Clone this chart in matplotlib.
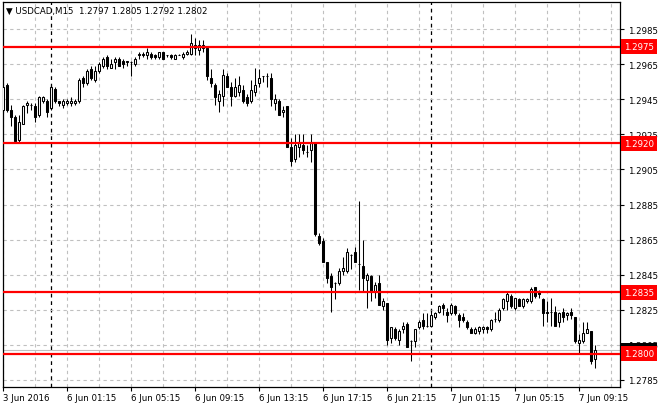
import numpy as np
import matplotlib.pyplot as plt
from matplotlib.transforms import blended_transform_factory

# USDCAD M15 candles, 3 Jun 2016 .. 7 Jun 09:30
symbol = "USDCAD,M15"
last_quote = [1.2797, 1.2805, 1.2792, 1.2802]

opens = [1.2939, 1.2953, 1.2939, 1.2935, 1.2922, 1.2931, 1.2942, 1.2942, 1.2941, 1.2936,
         1.2944, 1.2944, 1.2940, 1.2951, 1.2944, 1.2942, 1.2943, 1.2943, 1.2943, 1.2944,
         1.2957, 1.2954, 1.2962, 1.2956, 1.2961, 1.2964, 1.2969, 1.2963, 1.2966, 1.2968,
         1.2967, 1.2966, 1.2966, 1.2965, 1.2970, 1.2971, 1.2970, 1.2971, 1.2970, 1.2969,
         1.2972, 1.2970, 1.2970, 1.2968, 1.2970, 1.2969, 1.2971, 1.2971, 1.2976, 1.2973,
         1.2976, 1.2974, 1.2957, 1.2953, 1.2944, 1.2947, 1.2958, 1.2952, 1.2947, 1.2949,
         1.2950, 1.2946, 1.2944, 1.2949, 1.2954, 1.2958, 1.2958, 1.2957, 1.2943, 1.2944,
         1.2938, 1.2941, 1.2918, 1.2911, 1.2918, 1.2919, 1.2915, 1.2916, 1.2920, 1.2867,
         1.2864, 1.2852, 1.2844, 1.2840, 1.2840, 1.2847, 1.2847, 1.2856, 1.2858, 1.2851,
         1.2850, 1.2842, 1.2844, 1.2835, 1.2840, 1.2827, 1.2829, 1.2809, 1.2814, 1.2808,
         1.2814, 1.2817, 1.2807, 1.2807, 1.2815, 1.2819, 1.2816, 1.2816, 1.2821, 1.2824,
         1.2828, 1.2824, 1.2823, 1.2827, 1.2822, 1.2821, 1.2818, 1.2814, 1.2812, 1.2813,
         1.2814, 1.2815, 1.2814, 1.2820, 1.2819, 1.2826, 1.2830, 1.2833, 1.2826, 1.2831,
         1.2827, 1.2830, 1.2830, 1.2838, 1.2835, 1.2831, 1.2824, 1.2824, 1.2824, 1.2818,
         1.2824, 1.2822, 1.2824, 1.2821, 1.2806, 1.2807, 1.2812, 1.2813, 1.2797]
highs = [1.2954, 1.2954, 1.2942, 1.2936, 1.2936, 1.2942, 1.2944, 1.2943, 1.2943, 1.2947,
         1.2947, 1.2945, 1.2953, 1.2952, 1.2944, 1.2945, 1.2945, 1.2946, 1.2945, 1.2957,
         1.2958, 1.2962, 1.2964, 1.2964, 1.2966, 1.2969, 1.2970, 1.2968, 1.2969, 1.2969,
         1.2968, 1.2967, 1.2967, 1.2969, 1.2972, 1.2972, 1.2974, 1.2972, 1.2971, 1.2972,
         1.2972, 1.2970, 1.2971, 1.2971, 1.2971, 1.2972, 1.2973, 1.2982, 1.2980, 1.2979,
         1.2979, 1.2975, 1.2962, 1.2954, 1.2950, 1.2962, 1.2960, 1.2955, 1.2957, 1.2958,
         1.2953, 1.2948, 1.2956, 1.2963, 1.2962, 1.2958, 1.2960, 1.2960, 1.2948, 1.2945,
         1.2941, 1.2941, 1.2923, 1.2925, 1.2925, 1.2925, 1.2919, 1.2925, 1.2920, 1.2869,
         1.2866, 1.2852, 1.2846, 1.2841, 1.2849, 1.2855, 1.2860, 1.2857, 1.2861, 1.2887,
         1.2865, 1.2846, 1.2845, 1.2841, 1.2845, 1.2832, 1.2829, 1.2815, 1.2815, 1.2814,
         1.2818, 1.2818, 1.2808, 1.2814, 1.2819, 1.2823, 1.2823, 1.2825, 1.2824, 1.2828,
         1.2829, 1.2826, 1.2829, 1.2828, 1.2823, 1.2823, 1.2819, 1.2815, 1.2815, 1.2816,
         1.2816, 1.2816, 1.2820, 1.2824, 1.2826, 1.2832, 1.2835, 1.2834, 1.2832, 1.2832,
         1.2832, 1.2832, 1.2838, 1.2838, 1.2836, 1.2832, 1.2830, 1.2832, 1.2827, 1.2824,
         1.2826, 1.2824, 1.2826, 1.2821, 1.2811, 1.2818, 1.2818, 1.2813, 1.2805]
lows = [1.2938, 1.2938, 1.2930, 1.2920, 1.2920, 1.2931, 1.2937, 1.2939, 1.2932, 1.2935,
        1.2943, 1.2935, 1.2939, 1.2943, 1.2941, 1.2940, 1.2942, 1.2941, 1.2942, 1.2943,
        1.2952, 1.2953, 1.2956, 1.2955, 1.2960, 1.2963, 1.2962, 1.2963, 1.2962, 1.2964,
        1.2963, 1.2964, 1.2958, 1.2964, 1.2968, 1.2969, 1.2968, 1.2968, 1.2968, 1.2968,
        1.2968, 1.2969, 1.2968, 1.2968, 1.2970, 1.2968, 1.2970, 1.2970, 1.2970, 1.2970,
        1.2972, 1.2956, 1.2952, 1.2942, 1.2938, 1.2941, 1.2952, 1.2941, 1.2946, 1.2947,
        1.2943, 1.2941, 1.2943, 1.2947, 1.2952, 1.2955, 1.2952, 1.2941, 1.2939, 1.2936,
        1.2935, 1.2918, 1.2907, 1.2909, 1.2912, 1.2914, 1.2912, 1.2909, 1.2867, 1.2862,
        1.2852, 1.2840, 1.2824, 1.2831, 1.2839, 1.2845, 1.2846, 1.2848, 1.2852, 1.2836,
        1.2835, 1.2826, 1.2830, 1.2832, 1.2828, 1.2825, 1.2805, 1.2806, 1.2808, 1.2805,
        1.2812, 1.2804, 1.2796, 1.2804, 1.2814, 1.2814, 1.2815, 1.2816, 1.2820, 1.2823,
        1.2822, 1.2818, 1.2822, 1.2822, 1.2815, 1.2818, 1.2814, 1.2812, 1.2811, 1.2811,
        1.2812, 1.2812, 1.2813, 1.2818, 1.2818, 1.2825, 1.2825, 1.2826, 1.2825, 1.2827,
        1.2826, 1.2829, 1.2829, 1.2832, 1.2832, 1.2816, 1.2818, 1.2816, 1.2816, 1.2815,
        1.2818, 1.2819, 1.2820, 1.2806, 1.2800, 1.2806, 1.2812, 1.2794, 1.2792]
closes = [1.2952, 1.2939, 1.2935, 1.2921, 1.2932, 1.2941, 1.2943, 1.2942, 1.2935, 1.2946,
          1.2946, 1.2938, 1.2952, 1.2944, 1.2943, 1.2944, 1.2944, 1.2944, 1.2944, 1.2956,
          1.2954, 1.2961, 1.2957, 1.2961, 1.2965, 1.2968, 1.2964, 1.2965, 1.2968, 1.2964,
          1.2965, 1.2967, 1.2966, 1.2968, 1.2971, 1.2970, 1.2972, 1.2969, 1.2969, 1.2972,
          1.2968, 1.2970, 1.2969, 1.2970, 1.2970, 1.2971, 1.2972, 1.2977, 1.2974, 1.2976,
          1.2974, 1.2958, 1.2954, 1.2946, 1.2948, 1.2959, 1.2952, 1.2947, 1.2952, 1.2953,
          1.2944, 1.2943, 1.2950, 1.2953, 1.2957, 1.2958, 1.2958, 1.2945, 1.2945, 1.2936,
          1.2939, 1.2918, 1.2910, 1.2919, 1.2920, 1.2916, 1.2915, 1.2920, 1.2868, 1.2863,
          1.2852, 1.2843, 1.2838, 1.2840, 1.2847, 1.2849, 1.2858, 1.2856, 1.2852, 1.2851,
          1.2843, 1.2845, 1.2835, 1.2839, 1.2828, 1.2830, 1.2808, 1.2815, 1.2809, 1.2813,
          1.2816, 1.2804, 1.2807, 1.2814, 1.2818, 1.2816, 1.2816, 1.2822, 1.2823, 1.2827,
          1.2826, 1.2822, 1.2828, 1.2823, 1.2819, 1.2819, 1.2815, 1.2812, 1.2814, 1.2815,
          1.2815, 1.2814, 1.2819, 1.2820, 1.2825, 1.2831, 1.2834, 1.2827, 1.2832, 1.2827,
          1.2831, 1.2831, 1.2837, 1.2833, 1.2834, 1.2823, 1.2823, 1.2824, 1.2816, 1.2823,
          1.2821, 1.2823, 1.2822, 1.2807, 1.2808, 1.2812, 1.2814, 1.2796, 1.2802]

tick_bars = [0, 16, 32, 48, 64, 80, 96, 112, 128, 144]
tick_labels = ["3 Jun 2016", "6 Jun 01:15", "6 Jun 05:15", "6 Jun 09:15", "6 Jun 13:15",
               "6 Jun 17:15", "6 Jun 21:15", "7 Jun 01:15", "7 Jun 05:15", "7 Jun 09:15"]
day_breaks = [12, 107]
levels = [1.2975, 1.2920, 1.2835, 1.2800]
bid = 1.2802
price_ticks = [1.2785, 1.2805, 1.2825, 1.2845, 1.2865, 1.2885,
               1.2905, 1.2925, 1.2945, 1.2965, 1.2985]

fs = 6.2

fig = plt.figure(figsize=(6.6, 4.1), dpi=100)
ax = fig.add_axes([3/660, 22/410, 617/660, 385/410])

o = np.array(opens)
h = np.array(highs)
l = np.array(lows)
c = np.array(closes)
x = np.arange(len(o))
up = np.round(c - o, 5) > 0
dn = np.round(c - o, 5) < 0
flat = ~(up | dn)

# wicks then bodies
ax.vlines(x, l, h, color='black', lw=0.75, zorder=3)
ax.bar(x[up], (c - o)[up], bottom=o[up], width=0.62, facecolor='white',
       edgecolor='black', lw=0.75, zorder=4)
ax.bar(x[dn], (o - c)[dn], bottom=c[dn], width=0.62, facecolor='black',
       edgecolor='black', lw=0.75, zorder=4)
ax.hlines(o[flat], x[flat] - 0.35, x[flat] + 0.35, color='black', lw=0.75, zorder=4)

ax.set_xlim(0, 617/4)
ax.set_ylim(1.2785 - 7/17500, 1.2985 + 27/17500)

# grid
ax.set_xticks(tick_bars)
ax.set_xticklabels(tick_labels, fontsize=fs)
for t in ax.get_xticklabels():
    t.set_horizontalalignment('left')
ax.set_xticks(np.arange(8, 154, 16), minor=True)
ax.set_yticks(price_ticks)
ax.set_yticklabels(["%.4f" % p for p in price_ticks], fontsize=fs)
ax.yaxis.tick_right()
ax.tick_params(axis='y', which='major', direction='out', length=3, pad=2.5, width=0.8)
ax.tick_params(axis='x', which='major', direction='out', length=3, pad=1.5, width=0.8)
ax.tick_params(axis='x', which='minor', length=0)
ax.grid(True, which='both', color='#c0c0c0', linestyle=(0, (3, 3)), lw=0.8, zorder=0)

for d in day_breaks:
    ax.axvline(d, color='black', linestyle=(0, (3, 3)), lw=0.9, zorder=1)

for sp in ax.spines.values():
    sp.set_linewidth(0.9)

# bid line
ax.axhline(bid, color='#c0c0c0', lw=0.8, zorder=2)

trans = blended_transform_factory(ax.transAxes, ax.transData)
ax.text(1.006, bid, "%.4f" % bid, transform=trans, fontsize=fs, color='white',
        va='center', ha='left', clip_on=False, zorder=6,
        bbox=dict(boxstyle='square,pad=0.35', fc='black', ec='none'))

for lv in levels:
    ax.axhline(lv, color='#ff0000', lw=1.6, zorder=5)
    ax.text(1.006, lv, "%.4f" % lv, transform=trans, fontsize=fs, color='white',
            va='center', ha='left', clip_on=False, zorder=7,
            bbox=dict(boxstyle='square,pad=0.35', fc='#ff0000', ec='none'))

ax.text(0.005, 0.979, "\u25bc " + symbol + "  " + " ".join("%.4f" % q for q in last_quote),
        transform=ax.transAxes, fontsize=fs, va='center', ha='left', zorder=8)

fig.savefig("out.png", dpi=100)
